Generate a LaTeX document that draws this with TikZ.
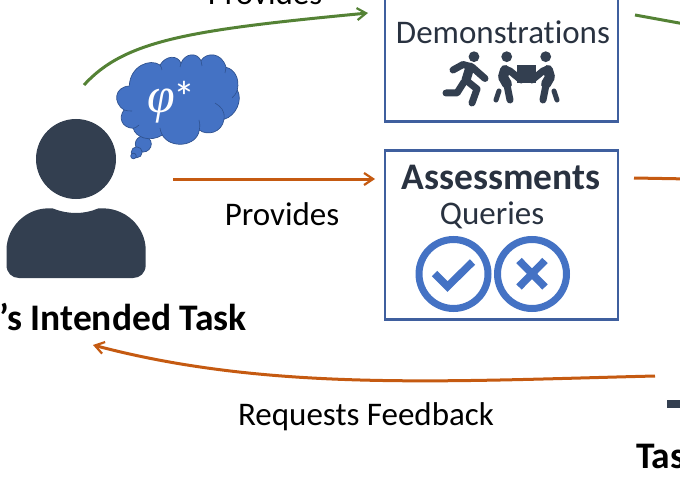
\documentclass[tikz,border=0pt]{standalone}
\usepackage{fontspec}
\setmainfont{Carlito}[Ligatures=NoCommon]
\usetikzlibrary{arrows.meta}
\definecolor{gr}{HTML}{548235}
\definecolor{og}{HTML}{C55A11}
\definecolor{dk}{HTML}{333F50}
\definecolor{bx}{HTML}{3F5F9E}
\definecolor{bl}{HTML}{4472C4}
\definecolor{cl}{HTML}{2F528F}
\tikzset{
  flow/.style={line width=3pt,-{Straight Barb[length=9pt,width=12pt,line width=2.2pt]}},
  flowend/.style={line width=3pt},
  panel/.style={draw=bx,line width=2.6pt,fill=white},
  lbl/.style={font=\fontsize{33}{36}\selectfont,text=black,inner sep=0pt},
  boxtxt/.style={font=\fontsize{33}{36}\selectfont,text=dk!80!black,inner sep=0pt},
  head/.style={font=\fontsize{37.5}{40}\selectfont\bfseries,text=black,inner sep=0pt},
  limb/.style={draw=dk,line width=7pt,line cap=round,line join=round},
  ring/.style={draw=bl,line width=7pt,fill=white},
  tick/.style={draw=bl,line width=7.5pt,line join=miter},
  seam/.style={draw=cl,line width=0.6pt}
}
\begin{document}
\begin{tikzpicture}[x=1pt,y=-1pt]
\useasboundingbox (0,0) rectangle (680,500);
\clip (0,0) rectangle (680,500);
% panels
\path[panel] (385,-20) rectangle (618,121.5);
\path[panel] (385,150.5) rectangle (618,319.5);
\node[boxtxt] (demo) at (503,32) {Demonstrations};
\node[head,text=dk!80!black] (assess) at (501,177) {Assessments};
\node[boxtxt] (queries) at (492,215) {Queries};
% runner icon
\fill[dk] (474,56.7) circle (5.4);
\draw[limb] (453,70) -- (463,64.5) -- (472,67) -- (485,78.5);
\draw[limb,line width=9pt] (470,67) -- (466,80);
\draw[limb] (467,81) -- (477,89) -- (472,103);
\draw[limb] (464,82) -- (457,93) -- (446,93);
% carriers icon
\fill[dk] (506.7,56.7) circle (5.4);
\fill[dk] (545.7,56.7) circle (5.4);
\fill[dk] (517,65) rectangle (536,83);
\draw[limb,line width=10pt] (505,70) -- (503,77) -- (507,84);
\draw[limb] (505,69) -- (510,71) -- (521,80);
\draw[limb] (507,85) -- (510,100);
\draw[limb,line width=5pt] (499,91) -- (496,100);
\draw[limb,line width=10pt] (548,70) -- (550,77) -- (546,84);
\draw[limb] (548,69) -- (543,71) -- (532,80);
\draw[limb] (546,85) -- (543,100);
\draw[limb,line width=5pt] (554,91) -- (557,100);
% check and cross
\draw[ring] (453.5,274) circle (34.5);
\draw[ring] (532,274) circle (34.5);
\draw[tick] (434.5,273.5) -- (447.5,286.5) -- (472.5,262);
\draw[tick] (519,260.5) -- (545,287);
\draw[tick] (545,260.5) -- (519,287);
% person
\fill[dk] (76,159) circle (40);
\fill[dk] (53,208.5) .. controls (68,214.5) and (84,214.5) .. (98,208.5)
  .. controls (125,206) and (145.7,227) .. (145.7,250) -- (145.7,265)
  .. controls (145.7,273) and (140,278) .. (133,278) -- (19,278)
  .. controls (12,278) and (6.5,273) .. (6.5,265) -- (6.5,250)
  .. controls (6.5,227) and (27,206) .. (53,208.5) -- cycle;
% thought cloud
\filldraw[fill=bl,draw=cl,line width=0.7pt] (143.3,144) circle (8);
\filldraw[fill=bl,draw=cl,line width=0.7pt] (136.7,152.3) circle (5.5);
\filldraw[fill=bl,draw=cl,line width=0.7pt] (133.5,156) circle (2.8);
\filldraw[fill=bl,draw=cl,line width=0.7pt] (129.3,86)
  .. controls (130,66) and (150,58) .. (160,65)
  .. controls (166,55) and (178,55) .. (181,63.3)
  .. controls (185,53) and (197,52) .. (201,60.7)
  .. controls (206,52) and (222,52) .. (226,67.3)
  .. controls (234,69) and (240,78) .. (237.3,90)
  .. controls (243,100) and (236,116) .. (224,119.3)
  .. controls (222,133) and (207,136) .. (199.3,130)
  .. controls (197,147) and (170,149) .. (162.3,135)
  .. controls (150,143) and (135,137) .. (133.3,128.3)
  .. controls (122,128) and (118,118) .. (124,110)
  .. controls (113,103) and (114,87) .. (129.3,86) -- cycle;
\draw[seam] (124,110) .. controls (127,111) and (129,111) .. (132,111);
\draw[seam] (133.3,128.3) .. controls (135,128) and (137,127) .. (139,125);
\draw[seam] (162.3,135) .. controls (161,132) and (160,130) .. (160,128);
\draw[seam] (199.3,130) .. controls (200,126) and (200,123) .. (199,120);
\draw[seam] (224,119.3) .. controls (225,110) and (221,107) .. (215,103);
\draw[seam] (237.3,90) .. controls (236,94) and (234,96) .. (232,98);
\draw[seam] (226,67.3) .. controls (226,70) and (226,71) .. (225,73);
\draw[seam] (201,60.7) .. controls (201,62) and (202,64) .. (202,66);
\draw[seam] (181,63.3) .. controls (181,65) and (180,66) .. (180,67);
\draw[seam] (160,65) .. controls (161,67) and (162,68) .. (162,70);
\node[inner sep=0pt,text=white,font=\fontsize{50}{52}\selectfont] (phi) at (161,106) {\fontspec{Liberation Serif}\itshape φ};
\node[inner sep=0pt,text=white,font=\fontsize{44}{46}\selectfont] (star) at (184,97) {*};
% connector ends
\coordinate (g1a) at (84,85);
\coordinate (g1b) at (368,13);
\coordinate (g2a) at (635,15);
\coordinate (g2b) at (690,25);
\coordinate (o1a) at (173,179);
\coordinate (o1b) at (375,179);
\coordinate (o2a) at (634,178);
\coordinate (o2b) at (690,179);
\coordinate (o3a) at (655,376);
\coordinate (o3b) at (93,345);
\draw[flow,gr] (g1a) .. controls (125,40) and (190,30) .. (g1b);
\draw[flowend,gr] (g2a) -- (g2b);
\draw[flow,og] (o1a) -- (o1b);
\draw[flowend,og] (o2a) -- (o2b);
\draw[flow,og] (o3a) .. controls (450,381) and (270,392) .. (o3b);
% labels
\node[lbl] (prov1) at (265,-7) {Provides};
\node[lbl] (prov2) at (282,214) {Provides};
\node[lbl] (req) at (366,417) {Requests Feedback};
\node[head,anchor=east] (task) at (247,317) {’s Intended Task};
\node[head,anchor=west] (tas) at (636,456) {Tas};
\fill[dk] (667,399.5) rectangle (690,408);
\end{tikzpicture}
\end{document}
